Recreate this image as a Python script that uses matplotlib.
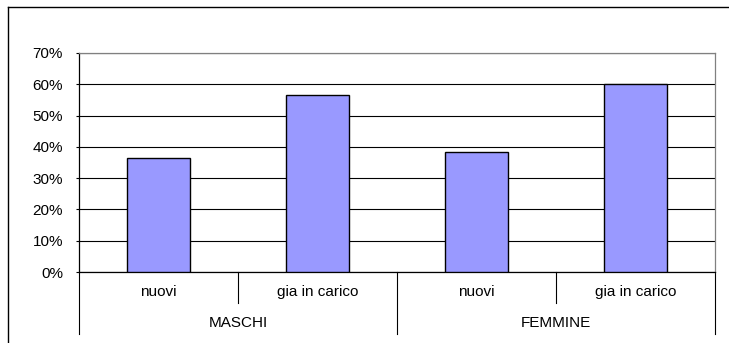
import matplotlib
matplotlib.use("Agg")
import matplotlib.pyplot as plt
from matplotlib.lines import Line2D
import matplotlib.transforms as mtransforms

# Chart data
groups = ["MASCHI", "FEMMINE"]
categories = ["nuovi", "gia in carico", "nuovi", "gia in carico"]
values = [36.4, 56.7, 38.4, 60.0]
yticks = [0, 10, 20, 30, 40, 50, 60, 70]

plt.rcParams["font.family"] = ["Liberation Sans", "DejaVu Sans"]

fig = plt.figure(figsize=(7.29, 3.43), dpi=100)
ax = fig.add_axes([79 / 729, 1 - 272 / 343, 636 / 729, 219 / 343])

x = range(len(categories))
ax.bar(x, values, width=0.40, color="#9999FF", edgecolor="black", linewidth=1.0, zorder=3)

ax.set_xlim(-0.5, len(categories) - 0.5)
ax.set_ylim(0, 70)
ax.set_yticks(yticks)
ax.set_yticklabels([f"{t}%" for t in yticks], fontsize=11)
ax.tick_params(axis="y", length=2.2, width=0.8, pad=9.3)
ax.set_xticks([])
ax.grid(axis="y", color="black", linewidth=0.8, zorder=0)

ax.spines["left"].set_color("black")
ax.spines["bottom"].set_color("black")
ax.spines["top"].set_color("#808080")
ax.spines["right"].set_color("#808080")
for s in ax.spines.values():
    s.set_linewidth(0.9)

# Two-level category axis
trans = mtransforms.blended_transform_factory(ax.transData, ax.transAxes)
for i, cat in enumerate(categories):
    ax.text(i, -0.091, cat, transform=trans, ha="center", va="center", fontsize=11)
# short dividers between categories inside a group
for xd in [0.5, 2.5]:
    ax.add_line(Line2D([xd, xd], [0, -0.1416], transform=trans, color="black",
                       linewidth=0.8, clip_on=False))
# long dividers between groups
for xd in [-0.5, 1.5, 3.5]:
    ax.add_line(Line2D([xd, xd], [0, -0.283], transform=trans, color="black",
                       linewidth=0.8, clip_on=False))
for g, name in enumerate(groups):
    ax.text(g * 2 + 0.5, -0.233, name, transform=trans, ha="center", va="center", fontsize=11)

# Outer chart frame (cut off at right and bottom)
fig.add_artist(Line2D([8 / 729, 1], [1 - 7 / 343, 1 - 7 / 343], transform=fig.transFigure,
                      color="black", linewidth=1.0))
fig.add_artist(Line2D([8 / 729, 8 / 729], [0, 1 - 7 / 343], transform=fig.transFigure,
                      color="black", linewidth=1.0))

fig.savefig("out.png", dpi=100)
